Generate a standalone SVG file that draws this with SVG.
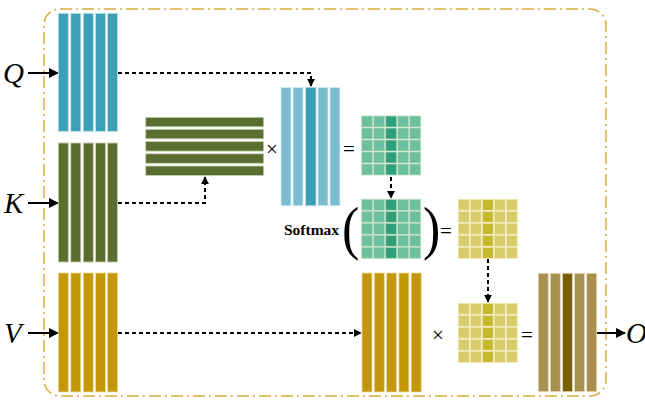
<svg xmlns="http://www.w3.org/2000/svg" width="645" height="400" viewBox="0 0 645 400">
<defs>
<style>
.q{fill:#3c9fb8;stroke:#bfe0ea;stroke-width:0.8}
.ql{fill:#7bbccf;stroke:#d8eef4;stroke-width:0.8}
.k{fill:#5a6e30;stroke:#c9d2b2;stroke-width:0.8}
.v{fill:#c4960a;stroke:#ecd9a0;stroke-width:0.8}
.o{fill:#a89050;stroke:#e4d9b8;stroke-width:0.8}
.od{fill:#7a5f00;stroke:#e4d9b8;stroke-width:0.8}
.g{fill:#6cc0a0;stroke:#b4dcb8;stroke-width:0.8}
.gd{fill:#2ea07a;stroke:#b4dcb8;stroke-width:0.8}
.y{fill:#d8cc6a;stroke:#eeeab0;stroke-width:0.8}
.yd{fill:#c4b832;stroke:#eeeab0;stroke-width:0.8}
.solid{stroke:#000;stroke-width:2;fill:none}
.dash{stroke:#000;stroke-width:2;fill:none;stroke-dasharray:4 3}
.lbl{font-family:"Liberation Serif",serif;font-style:italic;font-size:29px;fill:#000}
.op{font-family:"Liberation Serif",serif;font-size:21px;fill:#000}
</style>
<marker id="ah" viewBox="0 0 10 10" refX="9" refY="5" markerWidth="5" markerHeight="5" orient="auto"><path d="M0,0 L10,5 L0,10 z" fill="#000"/></marker>
<marker id="ahs" viewBox="0 0 10 10" refX="9" refY="5" markerWidth="4" markerHeight="4" orient="auto"><path d="M0,0 L10,5 L0,10 z" fill="#000"/></marker>
</defs>
<rect x="44" y="9" width="562" height="387" rx="16" ry="16" fill="none" stroke="#d6ac3a" stroke-width="1.5" stroke-dasharray="12 4 2 4"/>

<g id="connectors">
<line class="solid" x1="28" y1="73" x2="58" y2="73" marker-end="url(#ah)"/>
<line class="solid" x1="28" y1="203" x2="58" y2="203" marker-end="url(#ah)"/>
<line class="solid" x1="28" y1="333" x2="58" y2="333" marker-end="url(#ah)"/>
<line class="solid" x1="597" y1="333" x2="625" y2="333" marker-end="url(#ah)"/>
<path class="dash" d="M118,73 H311 V86" marker-end="url(#ahs)"/>
<path class="dash" d="M118,203 H205 V177" marker-end="url(#ahs)"/>
<path class="dash" d="M391,177 V198" marker-end="url(#ahs)"/>
<path class="dash" d="M488,259 V302" marker-end="url(#ahs)"/>
<path class="dash" d="M118,333 H361" marker-end="url(#ahs)"/>
</g>

<g id="labelQ"><text class="lbl" x="3" y="83">Q</text></g>
<g id="labelK"><text class="lbl" x="4" y="213">K</text></g>
<g id="labelV"><text class="lbl" x="4" y="343">V</text></g>
<g id="labelO"><text class="lbl" x="626" y="343">O</text></g>

<g id="Q">
<rect class="q" x="58.3" y="13.3" width="10" height="118"/>
<rect class="q" x="70.8" y="13.3" width="10" height="118"/>
<rect class="q" x="83.3" y="13.3" width="10" height="118"/>
<rect class="q" x="95.6" y="13.3" width="10" height="118"/>
<rect class="q" x="107.6" y="13.3" width="10" height="118"/>
</g>
<g id="K">
<rect class="k" x="58.3" y="143" width="10" height="119"/>
<rect class="k" x="70.8" y="143" width="10" height="119"/>
<rect class="k" x="83.3" y="143" width="10" height="119"/>
<rect class="k" x="95.6" y="143" width="10" height="119"/>
<rect class="k" x="107.6" y="143" width="10" height="119"/>
</g>
<g id="V">
<rect class="v" x="58.3" y="273" width="10" height="119"/>
<rect class="v" x="70.8" y="273" width="10" height="119"/>
<rect class="v" x="83.3" y="273" width="10" height="119"/>
<rect class="v" x="95.6" y="273" width="10" height="119"/>
<rect class="v" x="107.6" y="273" width="10" height="119"/>
</g>
<g id="KT">
<rect class="k" x="145.7" y="117.3" width="118" height="9.5"/>
<rect class="k" x="145.7" y="129.3" width="118" height="9.5"/>
<rect class="k" x="145.7" y="141.6" width="118" height="9.5"/>
<rect class="k" x="145.7" y="153.8" width="118" height="9.5"/>
<rect class="k" x="145.7" y="166" width="118" height="9.5"/>
</g>
<g id="times1"><text class="op" x="266" y="156">×</text></g>
<g id="Q2">
<rect class="ql" x="281" y="87.3" width="10" height="118.5"/>
<rect class="ql" x="293" y="87.3" width="10" height="118.5"/>
<rect class="q" x="305.6" y="87.3" width="10.4" height="118.5"/>
<rect class="ql" x="318" y="87.3" width="10" height="118.5"/>
<rect class="ql" x="330" y="87.3" width="10" height="118.5"/>
</g>
<g id="eq1"><text class="op" x="343" y="156">=</text></g>
<g id="S1">
<g transform="translate(361.7,116)">
<rect class="g" x="0" y="0" width="11" height="11"/><rect class="g" x="12" y="0" width="11" height="11"/><rect class="gd" x="24" y="0" width="11" height="11"/><rect class="g" x="36" y="0" width="11" height="11"/><rect class="g" x="48" y="0" width="11" height="11"/>
<rect class="g" x="0" y="12" width="11" height="11"/><rect class="g" x="12" y="12" width="11" height="11"/><rect class="gd" x="24" y="12" width="11" height="11"/><rect class="g" x="36" y="12" width="11" height="11"/><rect class="g" x="48" y="12" width="11" height="11"/>
<rect class="g" x="0" y="24" width="11" height="11"/><rect class="g" x="12" y="24" width="11" height="11"/><rect class="gd" x="24" y="24" width="11" height="11"/><rect class="g" x="36" y="24" width="11" height="11"/><rect class="g" x="48" y="24" width="11" height="11"/>
<rect class="g" x="0" y="36" width="11" height="11"/><rect class="g" x="12" y="36" width="11" height="11"/><rect class="gd" x="24" y="36" width="11" height="11"/><rect class="g" x="36" y="36" width="11" height="11"/><rect class="g" x="48" y="36" width="11" height="11"/>
<rect class="g" x="0" y="48" width="11" height="11"/><rect class="g" x="12" y="48" width="11" height="11"/><rect class="gd" x="24" y="48" width="11" height="11"/><rect class="g" x="36" y="48" width="11" height="11"/><rect class="g" x="48" y="48" width="11" height="11"/>
</g>
</g>
<g id="softmax">
<text x="284" y="235" font-family="Liberation Serif,serif" font-weight="bold" font-size="15.5">Softmax</text>
<text x="342" y="248" font-family="Liberation Serif,serif" font-size="52" transform="translate(342,248) scale(1,1.15) translate(-342,-248)">(</text>
<text x="423" y="248" font-family="Liberation Serif,serif" font-size="52" transform="translate(423,248) scale(1,1.15) translate(-423,-248)">)</text>
</g>
<g id="S2">
<g transform="translate(361.7,199.3)">
<rect class="g" x="0" y="0" width="11" height="11"/><rect class="g" x="12" y="0" width="11" height="11"/><rect class="gd" x="24" y="0" width="11" height="11"/><rect class="g" x="36" y="0" width="11" height="11"/><rect class="g" x="48" y="0" width="11" height="11"/>
<rect class="g" x="0" y="12" width="11" height="11"/><rect class="g" x="12" y="12" width="11" height="11"/><rect class="gd" x="24" y="12" width="11" height="11"/><rect class="g" x="36" y="12" width="11" height="11"/><rect class="g" x="48" y="12" width="11" height="11"/>
<rect class="g" x="0" y="24" width="11" height="11"/><rect class="g" x="12" y="24" width="11" height="11"/><rect class="gd" x="24" y="24" width="11" height="11"/><rect class="g" x="36" y="24" width="11" height="11"/><rect class="g" x="48" y="24" width="11" height="11"/>
<rect class="g" x="0" y="36" width="11" height="11"/><rect class="g" x="12" y="36" width="11" height="11"/><rect class="gd" x="24" y="36" width="11" height="11"/><rect class="g" x="36" y="36" width="11" height="11"/><rect class="g" x="48" y="36" width="11" height="11"/>
<rect class="g" x="0" y="48" width="11" height="11"/><rect class="g" x="12" y="48" width="11" height="11"/><rect class="gd" x="24" y="48" width="11" height="11"/><rect class="g" x="36" y="48" width="11" height="11"/><rect class="g" x="48" y="48" width="11" height="11"/>
</g>
</g>
<g id="eq2"><text class="op" x="440" y="238">=</text></g>
<g id="A1">
<g transform="translate(458.3,199.3)">
<rect class="y" x="0" y="0" width="11" height="11"/><rect class="y" x="12" y="0" width="11" height="11"/><rect class="yd" x="24" y="0" width="11" height="11"/><rect class="y" x="36" y="0" width="11" height="11"/><rect class="y" x="48" y="0" width="11" height="11"/>
<rect class="y" x="0" y="12" width="11" height="11"/><rect class="y" x="12" y="12" width="11" height="11"/><rect class="yd" x="24" y="12" width="11" height="11"/><rect class="y" x="36" y="12" width="11" height="11"/><rect class="y" x="48" y="12" width="11" height="11"/>
<rect class="y" x="0" y="24" width="11" height="11"/><rect class="y" x="12" y="24" width="11" height="11"/><rect class="yd" x="24" y="24" width="11" height="11"/><rect class="y" x="36" y="24" width="11" height="11"/><rect class="y" x="48" y="24" width="11" height="11"/>
<rect class="y" x="0" y="36" width="11" height="11"/><rect class="y" x="12" y="36" width="11" height="11"/><rect class="yd" x="24" y="36" width="11" height="11"/><rect class="y" x="36" y="36" width="11" height="11"/><rect class="y" x="48" y="36" width="11" height="11"/>
<rect class="y" x="0" y="48" width="11" height="11"/><rect class="y" x="12" y="48" width="11" height="11"/><rect class="yd" x="24" y="48" width="11" height="11"/><rect class="y" x="36" y="48" width="11" height="11"/><rect class="y" x="48" y="48" width="11" height="11"/>
</g>
</g>
<g id="V2">
<rect class="v" x="362" y="273" width="10" height="119"/>
<rect class="v" x="374.3" y="273" width="10" height="119"/>
<rect class="v" x="386.6" y="273" width="10" height="119"/>
<rect class="v" x="398.9" y="273" width="10" height="119"/>
<rect class="v" x="411.2" y="273" width="10" height="119"/>
</g>
<g id="times2"><text class="op" x="432" y="342">×</text></g>
<g id="A2">
<g transform="translate(458.3,303.3)">
<rect class="y" x="0" y="0" width="11" height="11"/><rect class="y" x="12" y="0" width="11" height="11"/><rect class="yd" x="24" y="0" width="11" height="11"/><rect class="y" x="36" y="0" width="11" height="11"/><rect class="y" x="48" y="0" width="11" height="11"/>
<rect class="y" x="0" y="12" width="11" height="11"/><rect class="y" x="12" y="12" width="11" height="11"/><rect class="yd" x="24" y="12" width="11" height="11"/><rect class="y" x="36" y="12" width="11" height="11"/><rect class="y" x="48" y="12" width="11" height="11"/>
<rect class="y" x="0" y="24" width="11" height="11"/><rect class="y" x="12" y="24" width="11" height="11"/><rect class="yd" x="24" y="24" width="11" height="11"/><rect class="y" x="36" y="24" width="11" height="11"/><rect class="y" x="48" y="24" width="11" height="11"/>
<rect class="y" x="0" y="36" width="11" height="11"/><rect class="y" x="12" y="36" width="11" height="11"/><rect class="yd" x="24" y="36" width="11" height="11"/><rect class="y" x="36" y="36" width="11" height="11"/><rect class="y" x="48" y="36" width="11" height="11"/>
<rect class="y" x="0" y="48" width="11" height="11"/><rect class="y" x="12" y="48" width="11" height="11"/><rect class="yd" x="24" y="48" width="11" height="11"/><rect class="y" x="36" y="48" width="11" height="11"/><rect class="y" x="48" y="48" width="11" height="11"/>
</g>
</g>
<g id="eq3"><text class="op" x="521" y="342">=</text></g>
<g id="O">
<rect class="o" x="538.3" y="273.3" width="10" height="118.4"/>
<rect class="o" x="550.3" y="273.3" width="10" height="118.4"/>
<rect class="od" x="562.5" y="273.3" width="10" height="118.4"/>
<rect class="o" x="574.6" y="273.3" width="10" height="118.4"/>
<rect class="o" x="586.7" y="273.3" width="10" height="118.4"/>
</g>
</svg>
